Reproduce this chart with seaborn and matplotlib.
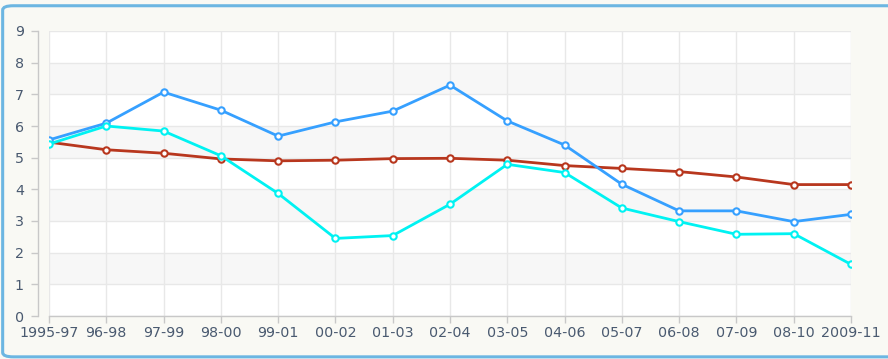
import matplotlib
matplotlib.use("Agg")
import matplotlib.pyplot as plt
from matplotlib.patches import FancyBboxPatch
import numpy as np
import pandas as pd
import seaborn as sns

periods = ["1995-97", "96-98", "97-99", "98-00", "99-01", "00-02", "01-03", "02-04",
           "03-05", "04-06", "05-07", "06-08", "07-09", "08-10", "2009-11"]
series_a = [5.56, 6.09, 7.07, 6.50, 5.68, 6.13, 6.47, 7.29, 6.16, 5.40, 4.16, 3.32, 3.32, 2.98, 3.21]
series_b = [5.43, 6.00, 5.84, 5.06, 3.87, 2.45, 2.54, 3.53, 4.79, 4.53, 3.41, 2.98, 2.58, 2.60, 1.63]
series_c = [5.49, 5.25, 5.14, 4.96, 4.90, 4.92, 4.97, 4.98, 4.92, 4.75, 4.66, 4.56, 4.39, 4.15, 4.15]
series_names = ["A", "B", "C"]
colors = {"A": "#36a0ff", "B": "#00f2f2", "C": "#b8371e"}

frames = []
for name, vals in zip(series_names, [series_a, series_b, series_c]):
    frames.append(pd.DataFrame({"pos": np.arange(len(periods)), "value": vals, "series": name}))
df = pd.concat(frames, ignore_index=True)

sns.set_theme(style="white")
plt.rcParams["font.family"] = ["DejaVu Sans"]

fig = plt.figure(figsize=(8.88, 3.59), dpi=100)
fig.patch.set_facecolor("#f9f9f4")

# rounded panel border
frame = FancyBboxPatch((0.003, 0.006), 1.2, 0.978, boxstyle="round,pad=0,rounding_size=0.012",
                       transform=fig.transFigure, facecolor="#f9f9f4",
                       edgecolor="#6cb6e2", linewidth=2.2, zorder=-10)
fig.patches.append(frame)

ax = fig.add_axes([49 / 888, 43 / 359, 802 / 888, 285 / 359])
ax.set_zorder(1)
ax.set_facecolor("white")

for lo in (1, 3, 5, 7):
    ax.axhspan(lo, lo + 1, color="#f7f7f7", zorder=0, lw=0)

sns.lineplot(data=df, x="pos", y="value", hue="series", palette=colors,
             hue_order=["C", "A", "B"], sort=False, ax=ax, legend=False,
             marker="o", markersize=4.6, markerfacecolor="white",
             markeredgewidth=1.5, linewidth=2.0, zorder=3)
for line in ax.lines:
    line.set_markeredgecolor(line.get_color())

ax.set_xlim(0, len(periods) - 1)
ax.set_ylim(0, 9)
ax.set_xticks(np.arange(len(periods)))
ax.set_xticklabels(periods)
ax.set_yticks(range(0, 10))
ax.set_xlabel("")
ax.set_ylabel("")

ax.grid(True, color="#e8e8e8", linewidth=1.0, zorder=1)
ax.set_axisbelow(True)

for s in ("top", "right"):
    ax.spines[s].set_visible(False)
ax.spines["left"].set_position(("outward", 8))
ax.spines["left"].set_color("#c8c8c8")
ax.spines["bottom"].set_color("#c8c8c8")
ax.spines["left"].set_linewidth(1.0)
ax.spines["bottom"].set_linewidth(1.0)

ax.tick_params(axis="both", which="major", direction="out", length=5, width=1,
               color="#c8c8c8", labelcolor="#4a5a70", labelsize=10.3)
ax.tick_params(axis="y", pad=5, left=True)
ax.tick_params(axis="x", pad=2, bottom=True)

fig.savefig("out.png", dpi=100, facecolor=fig.get_facecolor())
